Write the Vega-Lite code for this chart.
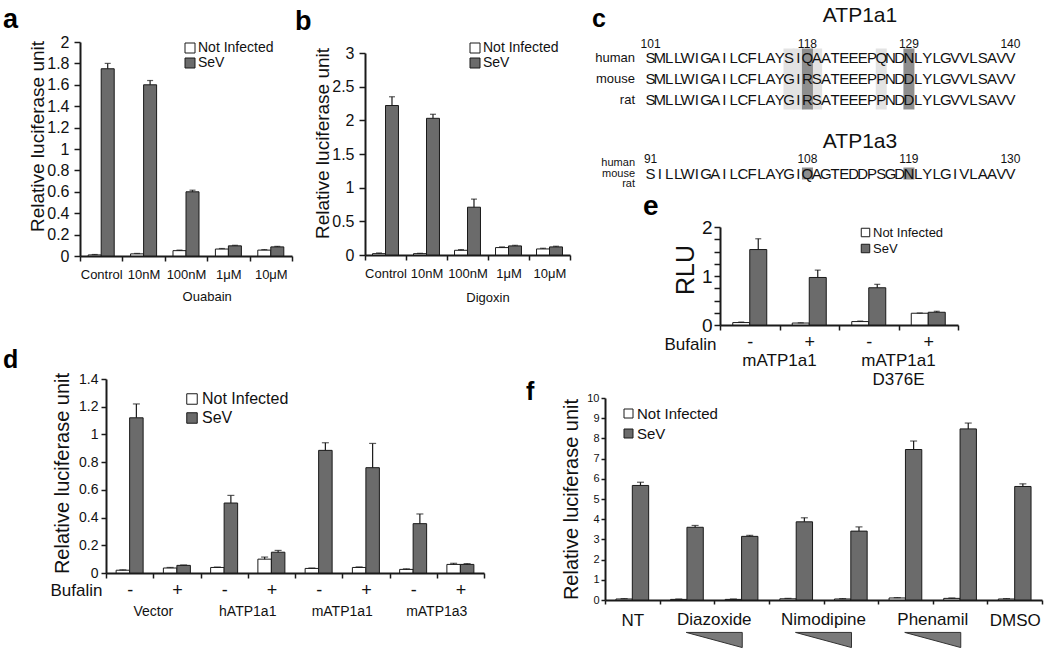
{
"$schema": "https://vega.github.io/schema/vega-lite/v6.json",
"width": 1050, "height": 652,
"autosize": {"type": "none"},
"padding": 0,
"config": {
 "font": "Liberation Sans",
 "view": {"stroke": null},
 "axis": {"grid": false, "labelOverlap": false, "domainColor": "#1a1a1a", "domainWidth": 2, "tickColor": "#1a1a1a", "tickWidth": 1.5, "labelColor": "#111111", "titleColor": "#111111", "titleFontWeight": "normal", "labelFont": "Liberation Sans", "titleFont": "Liberation Sans"},
 "legend": {"symbolType": "square", "symbolStrokeColor": "#1a1a1a", "symbolStrokeWidth": 1, "padding": 0, "labelColor": "#111111", "labelFont": "Liberation Sans"},
 "text": {"color": "#111111", "font": "Liberation Sans"}
},
"resolve": {"scale": {"x": "independent", "y": "independent", "color": "independent", "xOffset": "independent"}, "axis": {"x": "independent", "y": "independent"}, "legend": {"color": "independent"}},
"datasets": {
 "pa": [
  {"cond":"Control","inf":"Not Infected","v":0.01,"e":0.014},
  {"cond":"Control","inf":"SeV","v":1.75,"e":1.8},
  {"cond":"10nM","inf":"Not Infected","v":0.02,"e":0.024},
  {"cond":"10nM","inf":"SeV","v":1.6,"e":1.64},
  {"cond":"100nM","inf":"Not Infected","v":0.05,"e":0.055},
  {"cond":"100nM","inf":"SeV","v":0.6,"e":0.615},
  {"cond":"1μM","inf":"Not Infected","v":0.065,"e":0.07},
  {"cond":"1μM","inf":"SeV","v":0.095,"e":0.1},
  {"cond":"10μM","inf":"Not Infected","v":0.055,"e":0.06},
  {"cond":"10μM","inf":"SeV","v":0.085,"e":0.09}
 ],
 "pb": [
  {"cond":"Control","inf":"Not Infected","v":0.02,"e":0.03},
  {"cond":"Control","inf":"SeV","v":2.22,"e":2.35},
  {"cond":"10nM","inf":"Not Infected","v":0.02,"e":0.025},
  {"cond":"10nM","inf":"SeV","v":2.03,"e":2.09},
  {"cond":"100nM","inf":"Not Infected","v":0.07,"e":0.08},
  {"cond":"100nM","inf":"SeV","v":0.71,"e":0.83},
  {"cond":"1μM","inf":"Not Infected","v":0.11,"e":0.12},
  {"cond":"1μM","inf":"SeV","v":0.135,"e":0.145},
  {"cond":"10μM","inf":"Not Infected","v":0.09,"e":0.1},
  {"cond":"10μM","inf":"SeV","v":0.12,"e":0.13}
 ],
 "pd": [
  {"cond":"Vector|-","inf":"Not Infected","v":0.02,"e":0.023},
  {"cond":"Vector|-","inf":"SeV","v":1.12,"e":1.22},
  {"cond":"Vector|+","inf":"Not Infected","v":0.036,"e":0.04},
  {"cond":"Vector|+","inf":"SeV","v":0.055,"e":0.058},
  {"cond":"hATP1a1|-","inf":"Not Infected","v":0.04,"e":0.043},
  {"cond":"hATP1a1|-","inf":"SeV","v":0.505,"e":0.56},
  {"cond":"hATP1a1|+","inf":"Not Infected","v":0.1,"e":0.115},
  {"cond":"hATP1a1|+","inf":"SeV","v":0.15,"e":0.163},
  {"cond":"mATP1a1|-","inf":"Not Infected","v":0.033,"e":0.036},
  {"cond":"mATP1a1|-","inf":"SeV","v":0.885,"e":0.94},
  {"cond":"mATP1a1|+","inf":"Not Infected","v":0.04,"e":0.044},
  {"cond":"mATP1a1|+","inf":"SeV","v":0.76,"e":0.935},
  {"cond":"mATP1a3|-","inf":"Not Infected","v":0.026,"e":0.03},
  {"cond":"mATP1a3|-","inf":"SeV","v":0.356,"e":0.426},
  {"cond":"mATP1a3|+","inf":"Not Infected","v":0.062,"e":0.07},
  {"cond":"mATP1a3|+","inf":"SeV","v":0.062,"e":0.068}
 ],
 "pe": [
  {"cond":"mATP1a1|-","inf":"Not Infected","v":0.05,"e":0.06},
  {"cond":"mATP1a1|-","inf":"SeV","v":1.54,"e":1.76},
  {"cond":"mATP1a1|+","inf":"Not Infected","v":0.04,"e":0.045},
  {"cond":"mATP1a1|+","inf":"SeV","v":0.97,"e":1.12},
  {"cond":"D376E|-","inf":"Not Infected","v":0.07,"e":0.08},
  {"cond":"D376E|-","inf":"SeV","v":0.76,"e":0.83},
  {"cond":"D376E|+","inf":"Not Infected","v":0.24,"e":0.245},
  {"cond":"D376E|+","inf":"SeV","v":0.26,"e":0.28}
 ],
 "pf": [
  {"cond":"NT","inf":"Not Infected","v":0.05,"e":0.07},
  {"cond":"NT","inf":"SeV","v":5.67,"e":5.83},
  {"cond":"Diazoxide|lo","inf":"Not Infected","v":0.03,"e":0.05},
  {"cond":"Diazoxide|lo","inf":"SeV","v":3.6,"e":3.69},
  {"cond":"Diazoxide|hi","inf":"Not Infected","v":0.03,"e":0.05},
  {"cond":"Diazoxide|hi","inf":"SeV","v":3.15,"e":3.2},
  {"cond":"Nimodipine|lo","inf":"Not Infected","v":0.06,"e":0.08},
  {"cond":"Nimodipine|lo","inf":"SeV","v":3.87,"e":4.07},
  {"cond":"Nimodipine|hi","inf":"Not Infected","v":0.05,"e":0.07},
  {"cond":"Nimodipine|hi","inf":"SeV","v":3.41,"e":3.62},
  {"cond":"Phenamil|lo","inf":"Not Infected","v":0.1,"e":0.12},
  {"cond":"Phenamil|lo","inf":"SeV","v":7.45,"e":7.87},
  {"cond":"Phenamil|hi","inf":"Not Infected","v":0.08,"e":0.1},
  {"cond":"Phenamil|hi","inf":"SeV","v":8.47,"e":8.76},
  {"cond":"DMSO","inf":"Not Infected","v":0.05,"e":0.07},
  {"cond":"DMSO","inf":"SeV","v":5.62,"e":5.75}
 ],
 "seq": [
  {"c":1,"h":"S","m":"S","a3":"S"},{"c":2,"h":"M","m":"M","a3":"I"},{"c":3,"h":"L","m":"L","a3":"L"},{"c":4,"h":"L","m":"L","a3":"L"},
  {"c":5,"h":"W","m":"W","a3":"W"},{"c":6,"h":"I","m":"I","a3":"I"},{"c":7,"h":"G","m":"G","a3":"G"},{"c":8,"h":"A","m":"A","a3":"A"},
  {"c":9,"h":"I","m":"I","a3":"I"},{"c":10,"h":"L","m":"L","a3":"L"},{"c":11,"h":"C","m":"C","a3":"C"},{"c":12,"h":"F","m":"F","a3":"F"},
  {"c":13,"h":"L","m":"L","a3":"L"},{"c":14,"h":"A","m":"A","a3":"A"},{"c":15,"h":"Y","m":"Y","a3":"Y"},{"c":16,"h":"S","m":"G","a3":"G"},
  {"c":17,"h":"I","m":"I","a3":"I"},{"c":18,"h":"Q","m":"R","a3":"Q"},{"c":19,"h":"A","m":"S","a3":"A"},{"c":20,"h":"A","m":"A","a3":"G"},
  {"c":21,"h":"T","m":"T","a3":"T"},{"c":22,"h":"E","m":"E","a3":"E"},{"c":23,"h":"E","m":"E","a3":"D"},{"c":24,"h":"E","m":"E","a3":"D"},
  {"c":25,"h":"P","m":"P","a3":"P"},{"c":26,"h":"Q","m":"P","a3":"S"},{"c":27,"h":"N","m":"N","a3":"G"},{"c":28,"h":"D","m":"D","a3":"D"},
  {"c":29,"h":"N","m":"D","a3":"N"},{"c":30,"h":"L","m":"L","a3":"L"},{"c":31,"h":"Y","m":"Y","a3":"Y"},{"c":32,"h":"L","m":"L","a3":"L"},
  {"c":33,"h":"G","m":"G","a3":"G"},{"c":34,"h":"V","m":"V","a3":"I"},{"c":35,"h":"V","m":"V","a3":"V"},{"c":36,"h":"L","m":"L","a3":"L"},
  {"c":37,"h":"S","m":"S","a3":"A"},{"c":38,"h":"A","m":"A","a3":"A"},{"c":39,"h":"V","m":"V","a3":"V"},{"c":40,"h":"V","m":"V","a3":"V"}
 ]
},
"layer": [
 {
  "layer": [
   {
    "data": {"name": "pa"},
    "encoding": {
     "x": {"field": "cond", "type": "nominal", "scale": {"domain": ["Control","10nM","100nM","1μM","10μM"], "range": [80, 292], "paddingInner": 0, "paddingOuter": 0},
           "axis": {"orient": "bottom", "offset": -396, "title": null, "labelAngle": 0, "labelFontSize": 13, "labelBaseline": "middle", "labelPadding": 13, "tickSize": 5, "tickBand": "extent"}},
     "xOffset": {"field": "inf", "type": "nominal", "scale": {"domain": ["Not Infected","SeV"], "paddingInner": 0, "paddingOuter": 0.63}}
    },
    "layer": [
     {"mark": {"type": "bar", "stroke": "#1a1a1a", "strokeWidth": 1},
      "encoding": {
       "y": {"field": "v", "type": "quantitative", "scale": {"domain": [0, 2], "range": [256, 42], "nice": false},
             "axis": {"orient": "left", "offset": -80, "values": [0,0.2,0.4,0.6,0.8,1,1.2,1.4,1.6,1.8,2], "format": ".1~f", "labelFontSize": 16, "tickSize": 6, "labelPadding": 5, "title": "Relative luciferase unit", "titleFontSize": 19, "titleX": -37, "titleY": 136, "titleBaseline": "alphabetic"}},
       "color": {"field": "inf", "type": "nominal", "scale": {"domain": ["Not Infected","SeV"], "range": ["#ffffff","#6b6b6b"]},
                 "legend": {"orient": "none", "legendX": 183, "legendY": 41, "title": null, "symbolSize": 100, "labelFontSize": 14, "labelOffset": 1, "rowPadding": 1}}
      }},
     {"mark": {"type": "rule", "color": "#1a1a1a", "strokeWidth": 1.2},
      "encoding": {"y": {"field": "v", "type": "quantitative"}, "y2": {"field": "e"}}},
     {"mark": {"type": "tick", "color": "#1a1a1a", "thickness": 1.2, "size": 6},
      "encoding": {"y": {"field": "e", "type": "quantitative"}}}
    ]
   },
   {"data": {"values": [{"at": "1μM", "g": "Ouabain"}]},
    "mark": {"type": "text", "fontSize": 13, "baseline": "middle"},
    "encoding": {"x": {"field": "at", "type": "nominal", "bandPosition": 0}, "y": {"datum": -0.383}, "text": {"field": "g"}}},
   {"data": {"values": [{"at": "Control", "t": "a"}]},
    "mark": {"type": "text", "fontSize": 27, "fontWeight": "bold", "baseline": "alphabetic", "align": "left", "dx": -77, "color": "#000000"},
    "encoding": {"x": {"field": "at", "type": "nominal", "bandPosition": 0}, "y": {"datum": 2.131}, "text": {"field": "t"}}}
  ]
 },
 {
  "mark": {"type": "rule", "color": "#333333", "strokeWidth": 1},
  "encoding": {"x": {"datum": 1.25, "type": "quantitative", "scale": {"domain": [0, 5], "range": [80, 292], "nice": false, "zero": false}, "axis": null},
               "x2": {"datum": 4.79},
               "y": {"datum": -0.29, "type": "quantitative", "scale": {"domain": [0, 2], "range": [256, 42], "nice": false}, "axis": null}}
 },
 {
  "layer": [
   {
    "data": {"name": "pb"},
    "encoding": {
     "x": {"field": "cond", "type": "nominal", "scale": {"domain": ["Control","10nM","100nM","1μM","10μM"], "range": [365, 570], "paddingInner": 0, "paddingOuter": 0},
           "axis": {"orient": "bottom", "offset": -397, "title": null, "labelAngle": 0, "labelFontSize": 13, "labelBaseline": "middle", "labelPadding": 13, "tickSize": 5, "tickBand": "extent"}},
     "xOffset": {"field": "inf", "type": "nominal", "scale": {"domain": ["Not Infected","SeV"], "paddingInner": 0, "paddingOuter": 0.58}}
    },
    "layer": [
     {"mark": {"type": "bar", "stroke": "#1a1a1a", "strokeWidth": 1},
      "encoding": {
       "y": {"field": "v", "type": "quantitative", "scale": {"domain": [0, 3], "range": [255, 53], "nice": false},
             "axis": {"orient": "left", "offset": -365, "values": [0,0.5,1,1.5,2,2.5,3], "format": ".1~f", "labelFontSize": 16, "tickSize": 6, "labelPadding": 5, "title": "Relative luciferase unit", "titleFontSize": 19, "titleX": -37, "titleY": 143, "titleBaseline": "alphabetic"}},
       "color": {"field": "inf", "type": "nominal", "scale": {"domain": ["Not Infected","SeV"], "range": ["#ffffff","#6b6b6b"]},
                 "legend": {"orient": "none", "legendX": 468, "legendY": 41, "title": null, "symbolSize": 100, "labelFontSize": 14, "labelOffset": 1, "rowPadding": 1}}
      }},
     {"mark": {"type": "rule", "color": "#1a1a1a", "strokeWidth": 1.2},
      "encoding": {"y": {"field": "v", "type": "quantitative"}, "y2": {"field": "e"}}},
     {"mark": {"type": "tick", "color": "#1a1a1a", "thickness": 1.2, "size": 6},
      "encoding": {"y": {"field": "e", "type": "quantitative"}}}
    ]
   },
   {"data": {"values": [{"at": "1μM", "g": "Digoxin"}]},
    "mark": {"type": "text", "fontSize": 13, "baseline": "middle"},
    "encoding": {"x": {"field": "at", "type": "nominal", "bandPosition": 0}, "y": {"datum": -0.64}, "text": {"field": "g"}}},
   {"data": {"values": [{"at": "Control", "t": "b"}]},
    "mark": {"type": "text", "fontSize": 27, "fontWeight": "bold", "baseline": "alphabetic", "align": "left", "dx": -70, "color": "#000000"},
    "encoding": {"x": {"field": "at", "type": "nominal", "bandPosition": 0}, "y": {"datum": 3.342}, "text": {"field": "t"}}}
  ]
 },
 {
  "mark": {"type": "rule", "color": "#333333", "strokeWidth": 1},
  "encoding": {"x": {"datum": 1.25, "type": "quantitative", "scale": {"domain": [0, 5], "range": [365, 570], "nice": false, "zero": false}, "axis": null},
               "x2": {"datum": 4.9},
               "y": {"datum": -0.49, "type": "quantitative", "scale": {"domain": [0, 3], "range": [255, 53], "nice": false}, "axis": null}}
 },
 {
  "layer": [
   {"data": {"values": [{"c": 16}, {"c": 17}, {"c": 19}, {"c": 26}]},
    "mark": {"type": "tick", "orient": "vertical", "color": "#e3e3e3", "size": 61, "thickness": 11, "opacity": 1},
    "encoding": {"x": {"field": "c", "type": "quantitative", "scale": {"domain": [1, 40], "range": [650.6, 1010.4], "nice": false, "zero": false}, "axis": null},
                 "y": {"datum": "s6", "type": "ordinal", "scale": {"type": "point", "domain": ["s0","s1","s2","s3","s4","s5","s6","s7","s8","s9","s10","s11","s12","s13","s14","s15","s16","s17","s18","s19"], "range": [16, 215.5], "padding": 0}, "axis": null}}},
   {"data": {"values": [{"c": 18}, {"c": 29}]},
    "mark": {"type": "tick", "orient": "vertical", "color": "#8e8e8e", "size": 61, "thickness": 11, "opacity": 1},
    "encoding": {"x": {"field": "c", "type": "quantitative"}, "y": {"datum": "s6", "type": "ordinal"}}},
   {"data": {"values": [{"c": 18}, {"c": 29}]},
    "mark": {"type": "tick", "orient": "vertical", "color": "#8e8e8e", "size": 12, "thickness": 11, "opacity": 1},
    "encoding": {"x": {"field": "c", "type": "quantitative"}, "y": {"datum": "s15", "type": "ordinal"}}},
   {"data": {"name": "seq"}, "mark": {"type": "text", "fontSize": 15, "baseline": "middle"},
    "encoding": {"x": {"field": "c", "type": "quantitative"}, "y": {"datum": "s4", "type": "ordinal"}, "text": {"field": "h"}}},
   {"data": {"name": "seq"}, "mark": {"type": "text", "fontSize": 15, "baseline": "middle"},
    "encoding": {"x": {"field": "c", "type": "quantitative"}, "y": {"datum": "s6", "type": "ordinal"}, "text": {"field": "m"}}},
   {"data": {"name": "seq"}, "mark": {"type": "text", "fontSize": 15, "baseline": "middle"},
    "encoding": {"x": {"field": "c", "type": "quantitative"}, "y": {"datum": "s8", "type": "ordinal"}, "text": {"field": "m"}}},
   {"data": {"name": "seq"}, "mark": {"type": "text", "fontSize": 15, "baseline": "middle"},
    "encoding": {"x": {"field": "c", "type": "quantitative"}, "y": {"datum": "s15", "type": "ordinal"}, "text": {"field": "a3"}}},
   {"data": {"values": [{"c": 1, "n": "101", "n3": "91"}, {"c": 18, "n": "118", "n3": "108"}, {"c": 29, "n": "129", "n3": "119"}, {"c": 40, "n": "140", "n3": "130"}]},
    "layer": [
     {"mark": {"type": "text", "fontSize": 12, "baseline": "alphabetic"},
      "encoding": {"x": {"field": "c", "type": "quantitative"}, "y": {"datum": "s3", "type": "ordinal"}, "text": {"field": "n"}}},
     {"mark": {"type": "text", "fontSize": 12, "baseline": "alphabetic"},
      "encoding": {"x": {"field": "c", "type": "quantitative"}, "y": {"datum": "s14", "type": "ordinal"}, "text": {"field": "n3"}}}
    ]},
   {"data": {"values": [{"sp": "human", "l1": "s4", "l3": "s14"}, {"sp": "mouse", "l1": "s6", "l3": "s15"}, {"sp": "rat", "l1": "s8", "l3": "s16"}]},
    "layer": [
     {"mark": {"type": "text", "fontSize": 13, "baseline": "middle", "align": "right"},
      "encoding": {"x": {"datum": -0.69, "type": "quantitative"}, "y": {"field": "l1", "type": "ordinal"}, "text": {"field": "sp"}}},
     {"mark": {"type": "text", "fontSize": 11, "baseline": "middle", "align": "right"},
      "encoding": {"x": {"datum": -0.69, "type": "quantitative"}, "y": {"field": "l3", "type": "ordinal"}, "text": {"field": "sp"}}}
    ]},
   {"data": {"values": [{"t": "ATP1a1", "l": "s0"}, {"t": "ATP1a3", "l": "s12"}]},
    "mark": {"type": "text", "fontSize": 21, "baseline": "middle"},
    "encoding": {"x": {"datum": 23.7, "type": "quantitative"}, "y": {"field": "l", "type": "ordinal"}, "text": {"field": "t"}}},
   {"data": {"values": [{"t": "c"}]},
    "mark": {"type": "text", "fontSize": 25, "fontWeight": "bold", "baseline": "alphabetic", "align": "left", "color": "#000000"},
    "encoding": {"x": {"datum": -5.35, "type": "quantitative"}, "y": {"datum": "s1", "type": "ordinal"}, "text": {"field": "t"}}}
  ]
 },
 {
  "layer": [
   {
    "data": {"name": "pe"},
    "encoding": {
     "x": {"field": "cond", "type": "nominal", "scale": {"domain": ["mATP1a1|-","mATP1a1|+","D376E|-","D376E|+"], "range": [720, 958], "paddingInner": 0, "paddingOuter": 0},
           "axis": {"orient": "bottom", "offset": -327, "title": "Bufalin", "titleAngle": 0, "titleAlign": "right", "titleX": 716, "titleY": 19, "titleBaseline": "middle", "titleFontSize": 17, "labelExpr": "split(datum.label, '|')[1]", "labelAngle": 0, "labelFontSize": 18, "labelBaseline": "middle", "labelPadding": 12, "tickSize": 5, "tickBand": "extent"}},
     "xOffset": {"field": "inf", "type": "nominal", "scale": {"domain": ["Not Infected","SeV"], "paddingInner": 0, "paddingOuter": 0.75}}
    },
    "layer": [
     {"mark": {"type": "bar", "stroke": "#1a1a1a", "strokeWidth": 1},
      "encoding": {
       "y": {"field": "v", "type": "quantitative", "scale": {"domain": [0, 2], "range": [325, 227], "nice": false},
             "axis": {"orient": "left", "offset": -720, "values": [0,0.25,0.5,0.75,1,1.25,1.5,1.75,2], "labelExpr": "datum.value % 1 == 0 ? format(datum.value, 'd') : ''", "labelFontSize": 19, "tickSize": 6, "labelPadding": 2, "title": "RLU", "titleFontSize": 25, "titleX": -27, "titleY": 269.5, "titleBaseline": "alphabetic"}},
       "color": {"field": "inf", "type": "nominal", "scale": {"domain": ["Not Infected","SeV"], "range": ["#ffffff","#6b6b6b"]},
                 "legend": {"orient": "none", "legendX": 859, "legendY": 226, "title": null, "symbolSize": 72, "labelFontSize": 13, "labelOffset": 1, "rowPadding": 2}}
      }},
     {"mark": {"type": "rule", "color": "#1a1a1a", "strokeWidth": 1.2},
      "encoding": {"y": {"field": "v", "type": "quantitative"}, "y2": {"field": "e"}}},
     {"mark": {"type": "tick", "color": "#1a1a1a", "thickness": 1.2, "size": 6},
      "encoding": {"y": {"field": "e", "type": "quantitative"}}}
    ]
   },
   {"data": {"values": [{"at": "mATP1a1|+", "g": "mATP1a1"}, {"at": "D376E|+", "g": "mATP1a1\nD376E"}]},
    "mark": {"type": "text", "fontSize": 17, "baseline": "top", "lineBreak": "\n", "lineHeight": 19},
    "encoding": {"x": {"field": "at", "type": "nominal", "bandPosition": 0}, "y": {"datum": -0.57}, "text": {"field": "g"}}},
   {"data": {"values": [{"at": "mATP1a1|-", "t": "e"}]},
    "mark": {"type": "text", "fontSize": 28, "fontWeight": "bold", "baseline": "alphabetic", "align": "left", "dx": -77, "color": "#000000"},
    "encoding": {"x": {"field": "at", "type": "nominal", "bandPosition": 0}, "y": {"datum": 2.245}, "text": {"field": "t"}}}
  ]
 },
 {
  "layer": [
   {"mark": {"type": "rule", "color": "#333333", "strokeWidth": 1},
    "encoding": {"x": {"datum": 0.37, "type": "quantitative", "scale": {"domain": [0, 4], "range": [720, 958], "nice": false, "zero": false}, "axis": null},
                 "x2": {"datum": 1.71},
                 "y": {"datum": -0.51, "type": "quantitative", "scale": {"domain": [0, 2], "range": [325, 227], "nice": false}, "axis": null}}},
   {"mark": {"type": "rule", "color": "#333333", "strokeWidth": 1},
    "encoding": {"x": {"datum": 2.3, "type": "quantitative"}, "x2": {"datum": 3.65}, "y": {"datum": -0.51, "type": "quantitative"}}}
  ]
 },
 {
  "layer": [
   {
    "data": {"name": "pd"},
    "encoding": {
     "x": {"field": "cond", "type": "nominal", "scale": {"domain": ["Vector|-","Vector|+","hATP1a1|-","hATP1a1|+","mATP1a1|-","mATP1a1|+","mATP1a3|-","mATP1a3|+"], "range": [106, 484], "paddingInner": 0, "paddingOuter": 0},
           "axis": {"orient": "bottom", "offset": -79, "title": "Bufalin", "titleAngle": 0, "titleAlign": "right", "titleX": 102, "titleY": 17, "titleBaseline": "middle", "titleFontSize": 17, "labelExpr": "split(datum.label, '|')[1]", "labelAngle": 0, "labelFontSize": 18, "labelBaseline": "middle", "labelPadding": 12, "tickSize": 5, "tickBand": "extent"}},
     "xOffset": {"field": "inf", "type": "nominal", "scale": {"domain": ["Not Infected","SeV"], "paddingInner": 0, "paddingOuter": 0.75}}
    },
    "layer": [
     {"mark": {"type": "bar", "stroke": "#1a1a1a", "strokeWidth": 1},
      "encoding": {
       "y": {"field": "v", "type": "quantitative", "scale": {"domain": [0, 1.4], "range": [573, 379], "nice": false},
             "axis": {"orient": "left", "offset": -106, "values": [0,0.2,0.4,0.6,0.8,1,1.2,1.4], "format": ".1~f", "labelFontSize": 14, "tickSize": 5, "labelPadding": 3, "title": "Relative luciferase unit", "titleFontSize": 20, "titleX": -38, "titleY": 473, "titleBaseline": "alphabetic"}},
       "color": {"field": "inf", "type": "nominal", "scale": {"domain": ["Not Infected","SeV"], "range": ["#ffffff","#6b6b6b"]},
                 "legend": {"orient": "none", "legendX": 184, "legendY": 391, "title": null, "symbolSize": 110, "labelFontSize": 16, "labelOffset": 2, "rowPadding": 3}}
      }},
     {"mark": {"type": "rule", "color": "#1a1a1a", "strokeWidth": 1.2},
      "encoding": {"y": {"field": "v", "type": "quantitative"}, "y2": {"field": "e"}}},
     {"mark": {"type": "tick", "color": "#1a1a1a", "thickness": 1.2, "size": 7},
      "encoding": {"y": {"field": "e", "type": "quantitative"}}}
    ]
   },
   {"data": {"values": [{"at": "Vector|+", "g": "Vector"}, {"at": "hATP1a1|+", "g": "hATP1a1"}, {"at": "mATP1a1|+", "g": "mATP1a1"}, {"at": "mATP1a3|+", "g": "mATP1a3"}]},
    "mark": {"type": "text", "fontSize": 14, "baseline": "middle"},
    "encoding": {"x": {"field": "at", "type": "nominal", "bandPosition": 0}, "y": {"datum": -0.281}, "text": {"field": "g"}}},
   {"data": {"values": [{"at": "Vector|-", "t": "d"}]},
    "mark": {"type": "text", "fontSize": 25, "fontWeight": "bold", "baseline": "alphabetic", "align": "left", "dx": -103, "color": "#000000"},
    "encoding": {"x": {"field": "at", "type": "nominal", "bandPosition": 0}, "y": {"datum": 1.479}, "text": {"field": "t"}}}
  ]
 },
 {
  "layer": [
   {"mark": {"type": "rule", "color": "#555555", "strokeWidth": 1},
    "encoding": {"x": {"datum": 0.25, "type": "quantitative", "scale": {"domain": [0, 8], "range": [106, 484], "nice": false, "zero": false}, "axis": null},
                 "x2": {"datum": 1.67},
                 "y": {"datum": -0.202, "type": "quantitative", "scale": {"domain": [0, 1.4], "range": [573, 379], "nice": false}, "axis": null}}},
   {"mark": {"type": "rule", "color": "#555555", "strokeWidth": 1},
    "encoding": {"x": {"datum": 2.25, "type": "quantitative"}, "x2": {"datum": 3.67}, "y": {"datum": -0.202, "type": "quantitative"}}},
   {"mark": {"type": "rule", "color": "#555555", "strokeWidth": 1},
    "encoding": {"x": {"datum": 4.25, "type": "quantitative"}, "x2": {"datum": 5.67}, "y": {"datum": -0.202, "type": "quantitative"}}},
   {"mark": {"type": "rule", "color": "#555555", "strokeWidth": 1},
    "encoding": {"x": {"datum": 6.25, "type": "quantitative"}, "x2": {"datum": 7.67}, "y": {"datum": -0.202, "type": "quantitative"}}}
  ]
 },
 {
  "layer": [
   {
    "data": {"name": "pf"},
    "encoding": {
     "x": {"field": "cond", "type": "nominal", "scale": {"domain": ["NT","Diazoxide|lo","Diazoxide|hi","Nimodipine|lo","Nimodipine|hi","Phenamil|lo","Phenamil|hi","DMSO"], "range": [605, 1042], "paddingInner": 0, "paddingOuter": 0},
           "axis": {"orient": "bottom", "offset": -52, "title": null, "labelExpr": "datum.label == 'NT' || datum.label == 'DMSO' ? datum.label : ''", "labelAngle": 0, "labelFontSize": 17, "labelBaseline": "middle", "labelPadding": 16, "tickSize": 4, "tickBand": "extent"}},
     "xOffset": {"field": "inf", "type": "nominal", "scale": {"domain": ["Not Infected","SeV"], "paddingInner": 0, "paddingOuter": 0.67}}
    },
    "layer": [
     {"mark": {"type": "bar", "stroke": "#1a1a1a", "strokeWidth": 1},
      "encoding": {
       "y": {"field": "v", "type": "quantitative", "scale": {"domain": [0, 10], "range": [600, 398], "nice": false},
             "axis": {"orient": "left", "offset": -605, "values": [0,1,2,3,4,5,6,7,8,9,10], "format": "d", "labelFontSize": 11, "tickSize": 4, "labelPadding": 2, "title": "Relative luciferase unit", "titleFontSize": 20, "titleX": -28, "titleY": 499, "titleBaseline": "alphabetic"}},
       "color": {"field": "inf", "type": "nominal", "scale": {"domain": ["Not Infected","SeV"], "range": ["#ffffff","#6b6b6b"]},
                 "legend": {"orient": "none", "legendX": 621, "legendY": 406, "title": null, "symbolSize": 81, "labelFontSize": 15, "labelOffset": 1, "rowPadding": 4}}
      }},
     {"mark": {"type": "rule", "color": "#1a1a1a", "strokeWidth": 1.2},
      "encoding": {"y": {"field": "v", "type": "quantitative"}, "y2": {"field": "e"}}},
     {"mark": {"type": "tick", "color": "#1a1a1a", "thickness": 1.2, "size": 7},
      "encoding": {"y": {"field": "e", "type": "quantitative"}}}
    ]
   },
   {"data": {"values": [{"at": "Diazoxide|hi", "g": "Diazoxide"}, {"at": "Nimodipine|hi", "g": "Nimodipine"}, {"at": "Phenamil|hi", "g": "Phenamil"}]},
    "layer": [
     {"mark": {"type": "text", "fontSize": 17, "baseline": "middle"},
      "encoding": {"x": {"field": "at", "type": "nominal", "bandPosition": 0}, "y": {"datum": -0.99}, "text": {"field": "g"}}},
     {"mark": {"type": "point", "shape": "M -1 -0.27 L 1 -0.27 L 1 0.27 Z", "size": 3136, "filled": true, "fill": "#7a7a7a", "stroke": "#333333", "strokeWidth": 1, "opacity": 1},
      "encoding": {"x": {"field": "at", "type": "nominal", "bandPosition": 0}, "y": {"datum": -1.98}}}
    ]},
   {"data": {"values": [{"at": "NT", "t": "f"}]},
    "mark": {"type": "text", "fontSize": 25, "fontWeight": "bold", "baseline": "alphabetic", "align": "left", "dx": -79, "color": "#000000"},
    "encoding": {"x": {"field": "at", "type": "nominal", "bandPosition": 0}, "y": {"datum": 9.9}, "text": {"field": "t"}}}
  ]
 },
 {
  "layer": [
   {"mark": {"type": "rule", "color": "#9a9a9a", "strokeWidth": 1},
    "encoding": {"x": {"datum": 1.5, "type": "quantitative", "scale": {"domain": [0, 8], "range": [605, 1042], "nice": false, "zero": false}, "axis": null},
                 "x2": {"datum": 2.55},
                 "y": {"datum": -0.45, "type": "quantitative", "scale": {"domain": [0, 10], "range": [600, 398], "nice": false}, "axis": null}}},
   {"mark": {"type": "rule", "color": "#9a9a9a", "strokeWidth": 1},
    "encoding": {"x": {"datum": 3.5, "type": "quantitative"}, "x2": {"datum": 4.55}, "y": {"datum": -0.45, "type": "quantitative"}}},
   {"mark": {"type": "rule", "color": "#9a9a9a", "strokeWidth": 1},
    "encoding": {"x": {"datum": 5.5, "type": "quantitative"}, "x2": {"datum": 6.55}, "y": {"datum": -0.45, "type": "quantitative"}}}
  ]
 }
]
}
